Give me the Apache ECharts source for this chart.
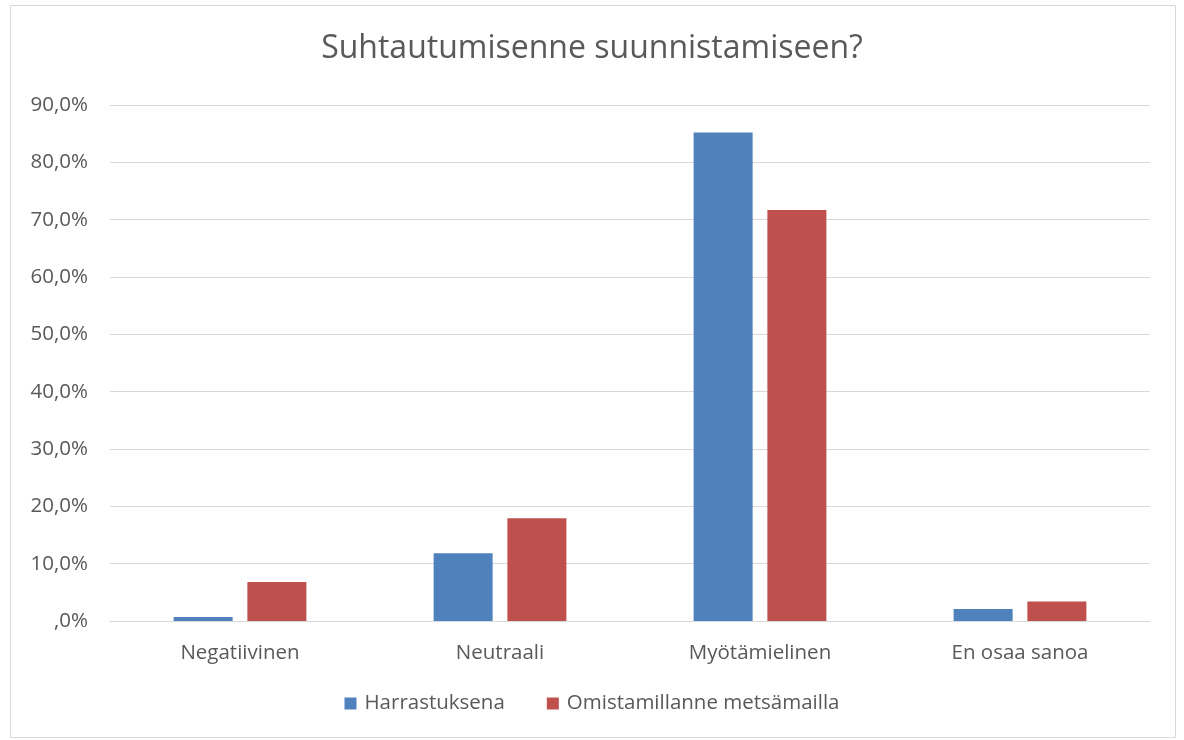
<!DOCTYPE html>
<html><head><meta charset="utf-8">
<script src="https://cdn.jsdelivr.net/npm/echarts@6/dist/echarts.min.js"></script>
<style>html,body{margin:0;padding:0;background:#fff}#c{width:1184px;height:740px}</style>
</head><body><div id="c"></div>
<script>
const categories = ['Negatiivinen', 'Neutraali', 'Myötämielinen', 'En osaa sanoa'];
const harrastuksena = [0.7, 11.8, 85.2, 2.1];
const omistamillanne = [6.8, 17.9, 71.7, 3.4];
const seriesNames = ['Harrastuksena', 'Omistamillanne metsämailla'];
const FONT = 'Open Sans';
const chart = echarts.init(document.getElementById('c'));
chart.setOption({
  animation: false,
  textStyle: {fontFamily: FONT},
  title: {text: 'Suhtautumisenne suunnistamiseen?', left: 'center', top: 28,
    textStyle: {fontFamily: FONT, fontSize: 32, fontWeight: 'normal', color: '#595959'}},
  graphic: [{type: 'rect', shape: {x: 10.5, y: 5.5, width: 1165, height: 732},
    style: {fill: 'none', stroke: '#d9d9d9', lineWidth: 1}, silent: true}],
  legend: {bottom: 21, left: 'center', itemWidth: 12, itemHeight: 12, itemGap: 42, icon: 'rect',
    textStyle: {fontFamily: FONT, fontSize: 20.5, color: '#595959', padding: [0, 0, 0, 3]}},
  grid: {left: 110, right: 34, top: 105, bottom: 119},
  xAxis: {type: 'category', data: categories,
    axisLine: {lineStyle: {color: '#d9d9d9', width: 1}}, axisTick: {show: false},
    axisLabel: {fontFamily: FONT, fontSize: 20.5, color: '#595959', margin: 22}},
  yAxis: {type: 'value', min: 0, max: 90, interval: 10,
    axisLine: {show: false}, axisTick: {show: false},
    splitLine: {lineStyle: {color: '#d9d9d9', width: 1}},
    axisLabel: {fontFamily: FONT, fontSize: 20.5, color: '#595959', margin: 22,
      formatter: v => v === 0 ? ',0%' : v.toFixed(1).replace('.', ',') + '%'}},
  series: [
    {name: seriesNames[0], type: 'bar', data: harrastuksena, barWidth: 59, barGap: '25%',
      itemStyle: {color: '#4f81bd'}},
    {name: seriesNames[1], type: 'bar', data: omistamillanne, barWidth: 59, barGap: '25%',
      itemStyle: {color: '#c0504d'}}
  ]
});
</script></body></html>
